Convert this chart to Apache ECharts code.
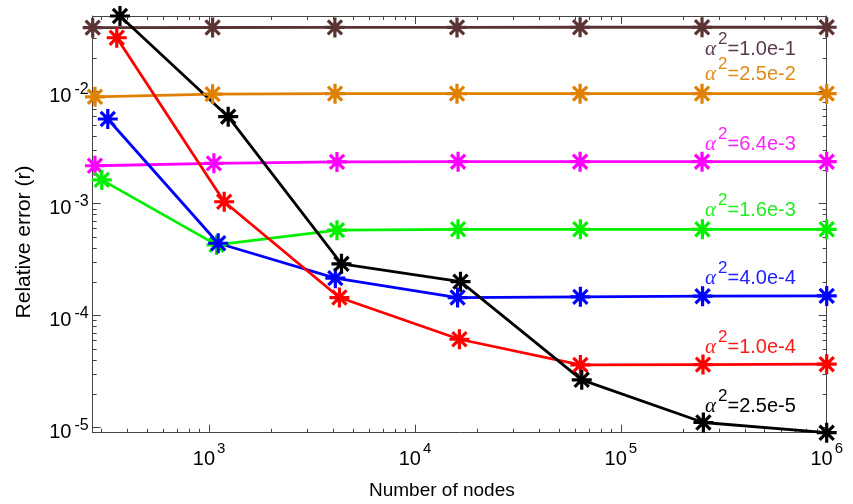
<!DOCTYPE html>
<html>
<head>
<meta charset="utf-8">
<script src="https://cdn.jsdelivr.net/npm/echarts@6/dist/echarts.min.js"></script>
<style>
html,body{margin:0;padding:0;background:#fff;}
#chart{width:853px;height:504px;}
</style>
</head>
<body>
<div id="chart"></div>
<script>
// ---- data ----
const alphaLabels = ['1.0e-1', '2.5e-2', '6.4e-3', '1.6e-3', '4.0e-4', '1.0e-4', '2.5e-5'];
const seriesColors = ['#5a3434', '#e08000', '#ff00ff', '#00f000', '#0000ff', '#ff0000', '#000000'];
const labelColors = ['#5a3a4e', '#e08a1a', '#ff22ff', '#22ee22', '#2222ff', '#ff1a1a', '#000000'];

const nodesA1 = [272, 1040, 4084, 16000, 63400, 248000, 1000000];
const errA1 = [0.0373, 0.0374, 0.0375, 0.0375, 0.0376, 0.0376, 0.0376];
const nodesA2 = [279, 1040, 4090, 16000, 63400, 248000, 1000000];
const errA2 = [0.0090, 0.0095, 0.0096, 0.0096, 0.0096, 0.0096, 0.0096];
const nodesA3 = [279, 1055, 4180, 16200, 63400, 248000, 1000000];
const errA3 = [0.00218, 0.00229, 0.00236, 0.00237, 0.00237, 0.00237, 0.00237];
const nodesA4 = [301, 1087, 4180, 16190, 63600, 249000, 1000000];
const errA4 = [0.00163, 0.000428, 0.00058, 0.00059, 0.00059, 0.00059, 0.00059];
const nodesA5 = [322, 1107, 4103, 16110, 63600, 249500, 1000000];
const errA5 = [0.0057, 0.000443, 0.000216, 0.000145, 0.000147, 0.000149, 0.000150];
const nodesA6 = [356, 1184, 4296, 16440, 63600, 250600, 1000000];
const errA6 = [0.0303, 0.00104, 0.000145, 0.0000615, 0.0000363, 0.0000365, 0.0000368];
const nodesA7 = [369, 1238, 4396, 16640, 64580, 251800, 1000000];
const errA7 = [0.0474, 0.00598, 0.00029, 0.000201, 0.0000267, 0.0000111, 0.0000090];

const xMajor = [1e3, 1e4, 1e5, 1e6];
const yMajor = [1e-5, 1e-4, 1e-3, 1e-2];
const xRange = [272, 1e6];
const yRange = [9e-6, 0.0474];

const allNodes = [nodesA1, nodesA2, nodesA3, nodesA4, nodesA5, nodesA6, nodesA7];
const allErr = [errA1, errA2, errA3, errA4, errA5, errA6, errA7];

// minor tick positions (2..9 x decade)
function minors(lo, hi) {
  const out = [];
  for (let e = Math.floor(Math.log10(lo)); e <= Math.ceil(Math.log10(hi)); e++) {
    for (let m = 2; m <= 9; m++) {
      const v = m * Math.pow(10, e);
      if (v >= lo * 0.999 && v <= hi * 1.001) out.push(v);
    }
  }
  return out;
}
const xMinor = minors(xRange[0], xRange[1]);
const yMinor = minors(yRange[0], yRange[1]);

const FONT = '"Liberation Sans", Arial, Helvetica, sans-serif';
const AXIS_COLOR = '#444';

const star = 'path://M42 0L58 0L58 100L42 100Z M0 42L100 42L100 58L0 58Z ' +
  'M20.26 8.94L91.06 79.74L79.74 91.06L8.94 20.26Z ' +
  'M79.74 8.94L91.06 20.26L20.26 91.06L8.94 79.74Z';

const xRich = {
  b: { fontSize: 20, fontFamily: FONT, color: '#000', padding: [6, 0, 0, 0] },
  s: { fontSize: 15, fontFamily: FONT, color: '#000', padding: [0, 0, 14, 2] }
};
const yRich = {
  b: { fontSize: 20, fontFamily: FONT, color: '#000', padding: [10, 0, 0, 0] },
  s: { fontSize: 16, fontFamily: FONT, color: '#000', padding: [0, 0, 4, 3] }
};

function xAxisDef(pos, ticks, len, showLine, showLabel) {
  return {
    type: 'log', position: pos, min: xRange[0], max: xRange[1],
    axisLine: { show: showLine, onZero: false, lineStyle: { color: AXIS_COLOR, width: 1 } },
    axisTick: { show: true, inside: true, length: len, customValues: ticks, lineStyle: { color: AXIS_COLOR, width: 1 } },
    axisLabel: showLabel ? {
      show: true, customValues: xMajor, margin: 9,
      formatter: v => '{b|10}{s|' + Math.round(Math.log10(v)) + '}',
      rich: xRich
    } : { show: false },
    splitLine: { show: false }
  };
}
function yAxisDef(pos, ticks, len, showLine, showLabel) {
  return {
    type: 'log', position: pos, min: yRange[0], max: yRange[1],
    axisLine: { show: showLine, onZero: false, lineStyle: { color: AXIS_COLOR, width: 1 } },
    axisTick: { show: true, inside: true, length: len, customValues: ticks, lineStyle: { color: AXIS_COLOR, width: 1 } },
    axisLabel: showLabel ? {
      show: true, customValues: yMajor, margin: 4,
      formatter: v => '{b|10}{s|' + Math.round(Math.log10(v)) + '}',
      rich: yRich
    } : { show: false },
    splitLine: { show: false }
  };
}

const series = allNodes.map((xs, i) => ({
  type: 'line',
  name: alphaLabels[i],
  xAxisIndex: 0, yAxisIndex: 0,
  data: xs.map((x, j) => [x, allErr[i][j]]),
  symbol: star, symbolSize: 20, showAllSymbol: true,
  clip: false,
  lineStyle: { color: seriesColors[i], width: 2.8 },
  itemStyle: { color: seriesColors[i] },
  emphasis: { disabled: true },
  animation: false
}));

// annotation positions (pixel)
const annoLeft = 705;
const annoBaseline = [58, 83, 153, 219, 287, 356, 415];
const graphics = alphaLabels.map((t, i) => ({
  type: 'text', left: annoLeft, top: annoBaseline[i] - 27,
  style: {
    text: '{a|α}{s|2}{t|=' + t + '}',
    fill: labelColors[i],
    rich: {
      a: { fontSize: 21, fontFamily: '"Liberation Serif", "DejaVu Serif", serif', fontStyle: 'italic', fill: labelColors[i], padding: [0, 2, 0, 0] },
      s: { fontSize: 17, fontFamily: FONT, fill: labelColors[i], padding: [0, 0, 20, 0] },
      t: { fontSize: 20, fontFamily: FONT, fill: labelColors[i] }
    }
  }
}));
graphics.push({
  type: 'text', left: 369, top: 481,
  style: { text: 'Number of nodes', fontSize: 19, fontFamily: FONT, fill: '#000' }
});
graphics.push({
  type: 'text', x: 24, y: 242, rotation: Math.PI / 2,
  style: { text: 'Relative error (r)', fontSize: 21, fontFamily: FONT, fill: '#000', align: 'center', verticalAlign: 'middle' }
});

const chart = echarts.init(document.getElementById('chart'), null, { renderer: 'canvas' });
chart.setOption({
  animation: false,
  backgroundColor: '#fff',
  grid: { left: 92.7, top: 16, right: 26.3, bottom: 71.3, containLabel: false },
  xAxis: [
    xAxisDef('bottom', xMajor, 8, true, true),
    xAxisDef('bottom', xMinor, 4, false, false),
    xAxisDef('top', xMajor, 8, true, false),
    xAxisDef('top', xMinor, 4, false, false)
  ],
  yAxis: [
    yAxisDef('left', yMajor, 8, true, true),
    yAxisDef('left', yMinor, 4, false, false),
    yAxisDef('right', yMajor, 8, true, false),
    yAxisDef('right', yMinor, 4, false, false)
  ],
  series: series,
  graphic: graphics
});
</script>
</body>
</html>
